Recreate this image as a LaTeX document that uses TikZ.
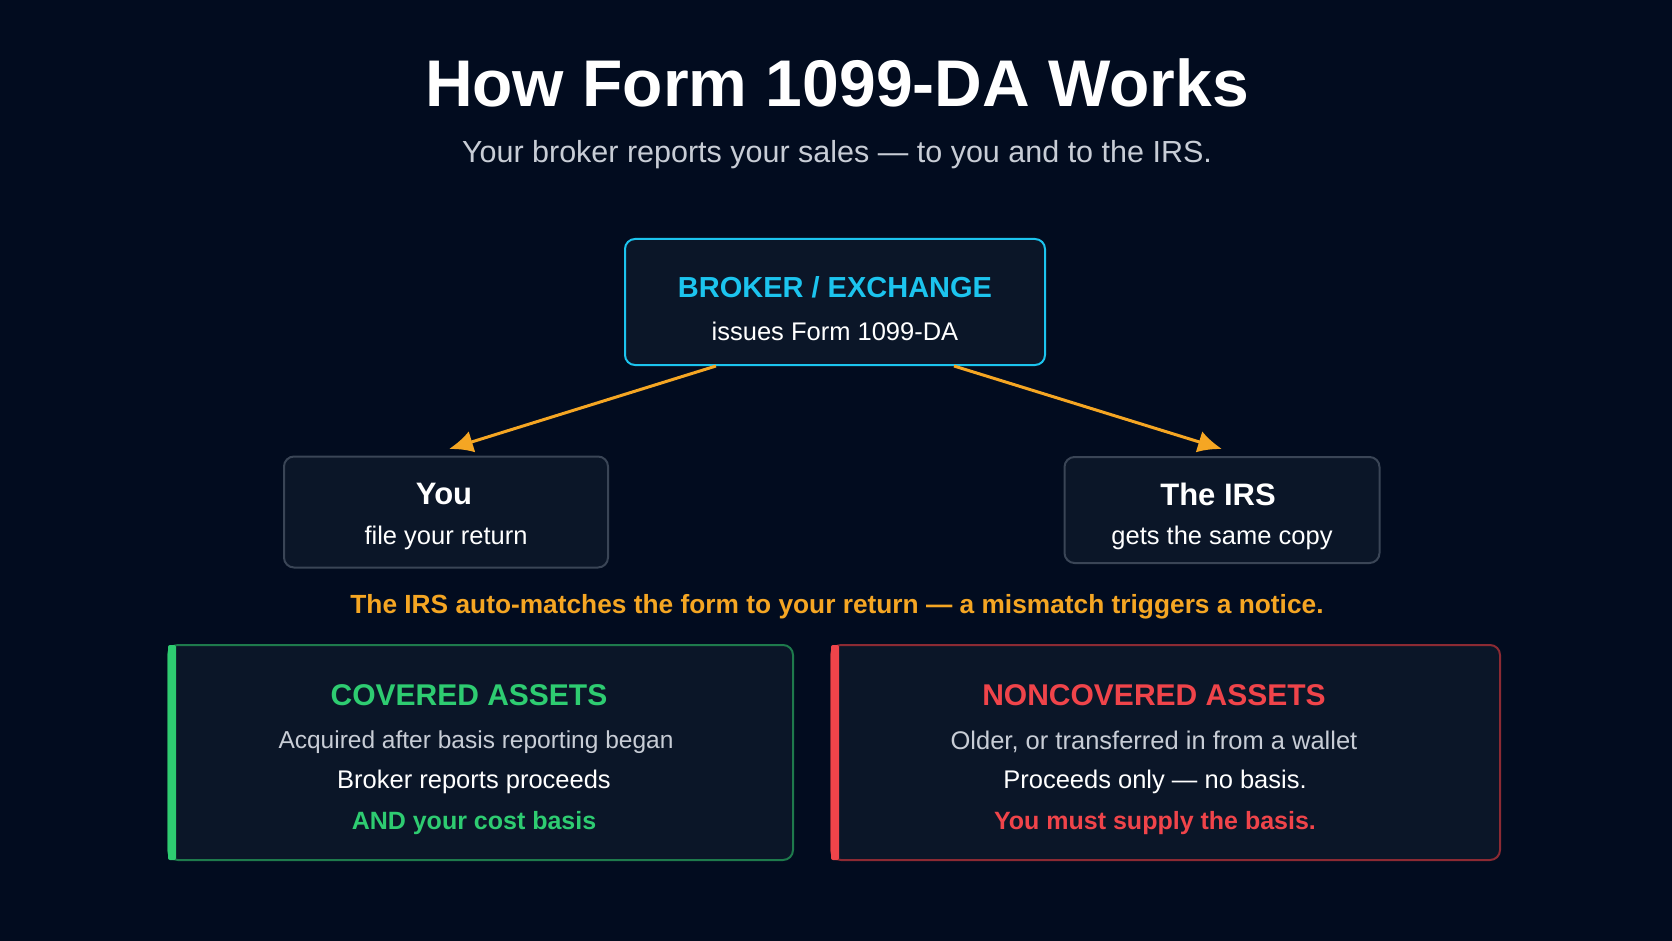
\documentclass[tikz,border=0pt]{standalone}
\usepackage{fontspec}
\setmainfont{Liberation Sans}
\begin{document}
\begin{tikzpicture}[x=1pt,y=-1pt,
  box/.style={draw, line width=2pt, rounded corners=10pt, fill=boxbg},
  arr/.style={draw=arrorange, line width=3pt, -{Latex[length=24pt,width=22pt]}},
  t/.style={text=white, font=\fontsize{25.5}{30}\selectfont}]
\definecolor{bg}{HTML}{020C1F}
\definecolor{boxbg}{HTML}{0B1628}
\definecolor{cyanc}{HTML}{1CC4EE}
\definecolor{greyb}{HTML}{3A4556}
\definecolor{arrorange}{HTML}{F5A623}
\definecolor{greenc}{HTML}{2ECC71}
\definecolor{greenb}{HTML}{1E7A4C}
\definecolor{redc}{HTML}{F0444A}
\definecolor{redb}{HTML}{8C2A33}
\definecolor{sub}{HTML}{C8CDD6}
\usetikzlibrary{arrows.meta}
\fill[bg] (0,0) rectangle (1672,941);
\useasboundingbox (0,0) rectangle (1672,941);
\node[text=white, font=\bfseries\fontsize{66}{74}\selectfont] (title) at (837,83) {How Form 1099-DA Works};
\node[text=sub, font=\fontsize{30.5}{36}\selectfont] (subt) at (837,155) {Your broker reports your sales — to you and to the IRS.};
\node[box, draw=cyanc, minimum width=420pt, minimum height=126pt] (broker) at (835,302) {};
\node[text=cyanc, font=\bfseries\fontsize{29}{34}\selectfont] (bt) at (835,287) {BROKER / EXCHANGE};
\node[t] (bs) at (835,331) {issues Form 1099-DA};
\node[box, draw=greyb, minimum width=324pt, minimum height=111pt] (you) at (446,512) {};
\node[text=white, font=\bfseries\fontsize{31}{36}\selectfont] (yt) at (444,494) {You};
\node[t] (ys) at (446,538) {file your return};
\node[box, draw=greyb, minimum width=315pt, minimum height=106pt] (irs) at (1222,510) {};
\node[text=white, font=\bfseries\fontsize{31}{36}\selectfont] (it) at (1218,494) {The IRS};
\node[t] (is) at (1222,538) {gets the same copy};
\coordinate (a1s) at (716,366); \coordinate (a1e) at (449,449);
\coordinate (a2s) at (954,366); \coordinate (a2e) at (1222,449);
\draw[arr] (a1s) -- (a1e);
\draw[arr] (a2s) -- (a2e);
\node[text=arrorange, font=\bfseries\fontsize{26.3}{31}\selectfont] (note) at (837,607) {The IRS auto-matches the form to your return — a mismatch triggers a notice.};
\node[box, draw=greenb, minimum width=625pt, minimum height=215pt] (cov) at (480.5,752.5) {};
\fill[greenc, rounded corners=2pt] (168,645) rectangle (176,860);
\node[text=greenc, font=\bfseries\fontsize{30}{36}\selectfont] (ct) at (469,695) {COVERED ASSETS};
\node[text=sub, font=\fontsize{24.5}{28}\selectfont] (c1) at (476,742) {Acquired after basis reporting began};
\node[t] (c2) at (474,782) {Broker reports proceeds};
\node[text=greenc, font=\bfseries\fontsize{25}{28}\selectfont] (c3) at (474,823) {AND your cost basis};
\node[box, draw=redb, minimum width=669pt, minimum height=215pt] (non) at (1165.5,752.5) {};
\fill[redc, rounded corners=2pt] (831,645) rectangle (839,860);
\node[text=redc, font=\bfseries\fontsize{30}{36}\selectfont] (nt) at (1154,695) {NONCOVERED ASSETS};
\node[text=sub, font=\fontsize{25.5}{30}\selectfont] (n1) at (1154,742) {Older, or transferred in from a wallet};
\node[t] (n2) at (1155,782) {Proceeds only — no basis.};
\node[text=redc, font=\bfseries\fontsize{25}{28}\selectfont] (n3) at (1155,823) {You must supply the basis.};
\end{tikzpicture}
\end{document}
